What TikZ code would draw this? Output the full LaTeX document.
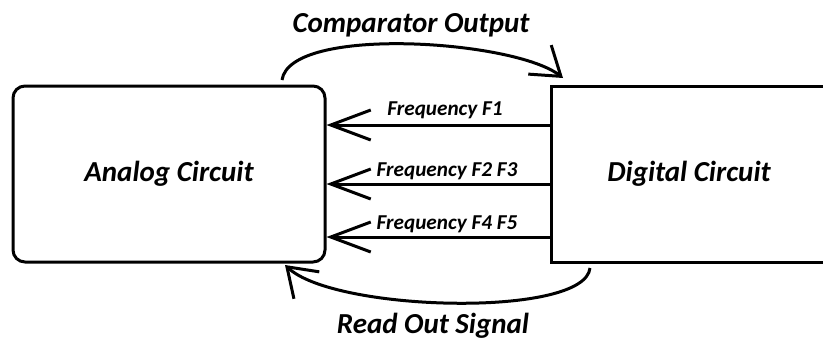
\documentclass[tikz,border=0pt]{standalone}
\usepackage{fontspec}
\setmainfont{Carlito}
\usetikzlibrary{arrows.meta}
\begin{document}
\begin{tikzpicture}[x=1pt,y=-1pt,
  block/.style={draw=black,line width=3pt,fill=white,inner sep=0pt,
    font=\fontsize{29}{31}\selectfont\bfseries\itshape},
  sig/.style={line width=3pt,-{Straight Barb[length=40pt,width=30pt,line width=3pt]}},
  loop/.style={line width=3pt,-{Straight Barb[length=27pt,width=37pt,line width=3pt]}},
  freq/.style={anchor=base,inner sep=0pt,font=\fontsize{21.2}{23}\selectfont\bfseries\itshape},
  big/.style={anchor=base,inner sep=0pt,font=\fontsize{29}{31}\selectfont\bfseries\itshape}]
  % canvas
  \clip (0,0) rectangle (823,340);
  \fill[white] (0,0) rectangle (823,340);

  % the two circuit blocks (the digital one runs off the right edge)
  \node[block,rounded corners=12pt,minimum width=312pt,minimum height=176pt]
    (Analog) at (169,174) {Analog Circuit};
  \node[block,minimum width=276pt,minimum height=176pt]
    (Digital) at (689,174) {Digital Circuit};

  % frequency lines from the digital block into the analog block
  \coordinate (r1) at (0,125);
  \coordinate (r2) at (0,184);
  \coordinate (r3) at (0,237);
  \draw[sig] (Digital.west |- r1) -- (Analog.east |- r1);
  \draw[sig] (Digital.west |- r2) -- (Analog.east |- r2);
  \draw[sig] (Digital.west |- r3) -- (Analog.east |- r3);
  \node[freq] (f1) at (445,115.5) {Frequency F1};
  \node[freq] (f23) at (447,176) {Frequency F2 F3};
  \node[freq] (f45) at (447,229) {Frequency F4 F5};

  % comparator output loop over the top
  \coordinate (cs) at (282,80);
  \coordinate (ce) at (563,78);
  \draw[loop] (cs) .. controls (290,25) and (515,40) .. (ce);
  \node[big] (cmp) at (411,32) {Comparator Output};

  % read-out loop under the bottom
  \coordinate (rs) at (590,268);
  \coordinate (re) at (285,265);
  \draw[loop] (rs) .. controls (585,318) and (335,312) .. (re);
  \node[big] (rd) at (433,333) {Read Out Signal};
\end{tikzpicture}
\end{document}
